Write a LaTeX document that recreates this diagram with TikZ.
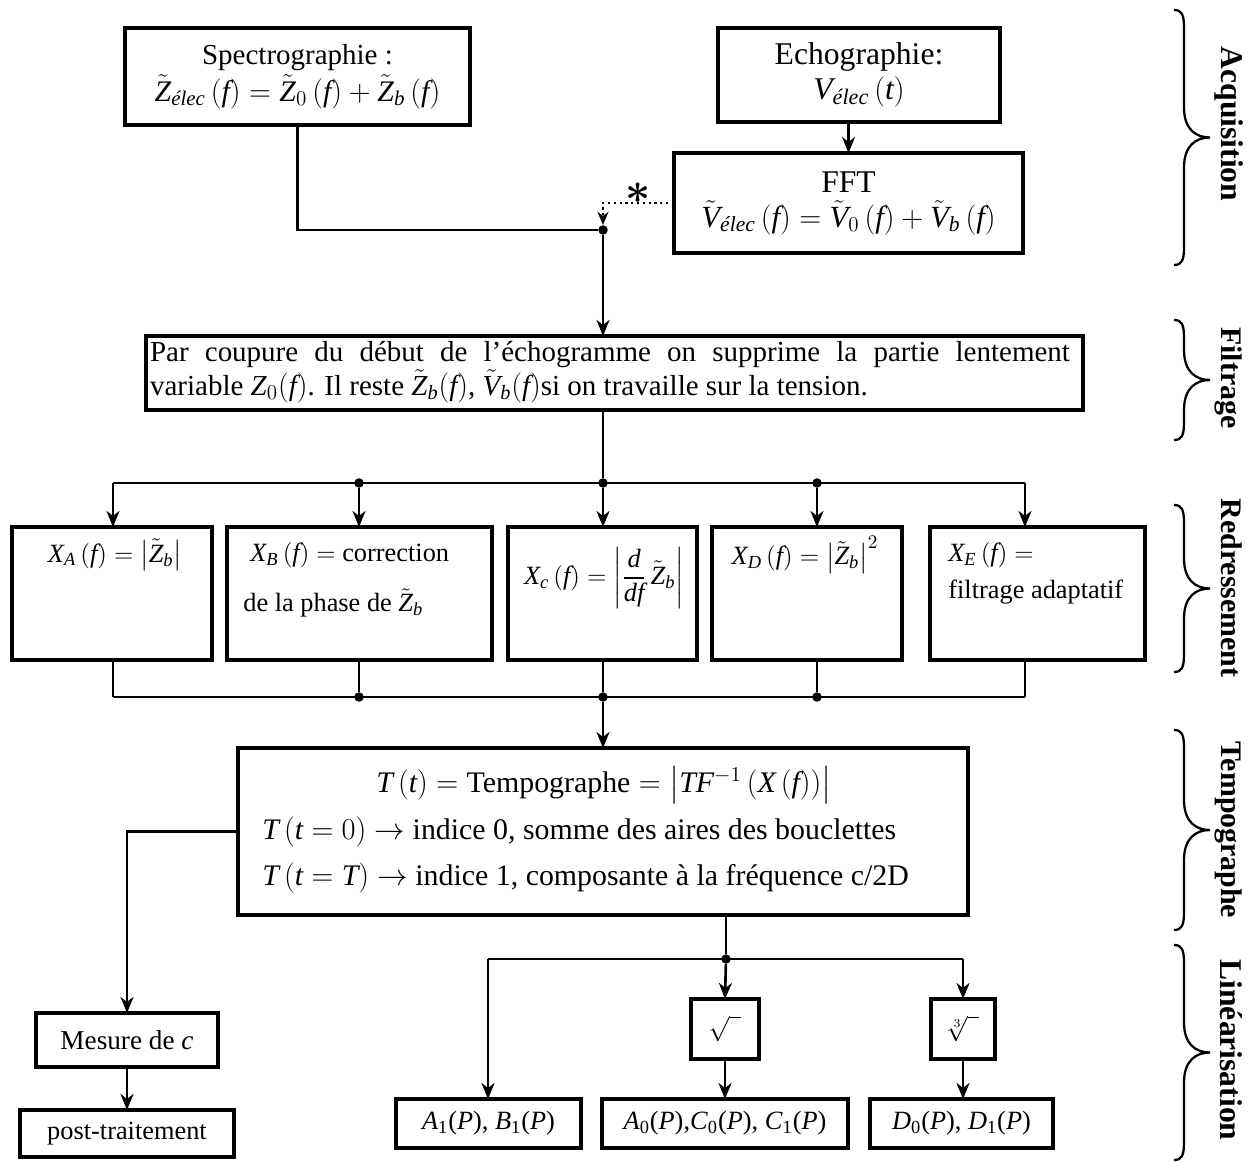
\documentclass[tikz,border=0pt]{standalone}
\usepackage{amsmath}
\usepackage{fontspec}
\setmainfont{Liberation Serif}
% lettres et chiffres des formules dans la police du texte
\DeclareSymbolFont{letters}{TU}{\rmdefault}{m}{it}
\DeclareSymbolFont{droit}{TU}{\rmdefault}{m}{n}
\DeclareMathSymbol{0}{\mathalpha}{droit}{`0}
\DeclareMathSymbol{1}{\mathalpha}{droit}{`1}
\DeclareMathSymbol{2}{\mathalpha}{droit}{`2}
\DeclareMathSymbol{3}{\mathalpha}{droit}{`3}
\DeclareMathSymbol{(}{\mathopen}{droit}{`(}
\DeclareMathSymbol{)}{\mathclose}{droit}{`)}
\DeclareMathSymbol{=}{\mathrel}{droit}{`=}
\DeclareMathSymbol{+}{\mathbin}{droit}{`+}
\usepackage{tikz}
\usetikzlibrary{arrows.meta,positioning}
\newcommand{\Texte}{\fontsize{15}{19}\selectfont}
\newcommand{\Grand}{\fontsize{17}{20}\selectfont}
\newcommand{\Titre}{\fontsize{17}{20}\selectfont\bfseries}
\tikzset{
  bloc/.style={draw=black,line width=2pt,inner sep=0pt,outer sep=0pt,font=\Texte},
  liaison/.style={draw=black,line width=1.5pt},
  fleche/.style={liaison,-{Stealth[length=0.32cm,width=0.26cm,inset=0.1cm]}},
  pointille/.style={draw=black,line width=1.3pt,dotted,-{Stealth[length=0.26cm,width=0.22cm,inset=0.08cm]}},
  noeud/.style={circle,fill=black,inner sep=0pt,minimum size=0.19cm},
  accolade/.style={draw=black,line width=1.3pt},
  etape/.style={font=\Titre,rotate=-90,inner sep=0pt,anchor=base},
  ecrit/.style={font=\Texte,inner sep=0pt}
}
\newcommand{\elec}{\text{\itshape élec}}
\newcommand{\coef}[2]{\textit{#1}\textsubscript{#2}(\textit{P})}

\begin{document}
\begin{tikzpicture}[x=0.02cm,y=-0.02cm]
  % one unit = one pixel of the 1248 x 1162 page
  \path[use as bounding box] (0,0) rectangle (1248,1162);

  \newcommand{\bloc}[6]{%
    \pgfmathsetmacro{\blocl}{(#4-#2)*0.02}%
    \pgfmathsetmacro{\bloch}{(#5-#3)*0.02}%
    \node[bloc,minimum width=\blocl cm,minimum height=\bloch cm,align=center]
      (#1) at ({(#2+#4)/2},{(#3+#5)/2}) {#6};%
  }
  \newcommand{\accolade}[3]{%
    \pgfmathsetmacro{\ym}{(#2+#3)/2}%
    \draw[accolade] (#1,#2) .. controls (#1+8,#2) and (#1+10,#2+5) .. (#1+10,#2+18)
      -- (#1+10,\ym-30) .. controls (#1+10,\ym-8) and (#1+22,\ym) .. (#1+36,\ym)
      .. controls (#1+22,\ym) and (#1+10,\ym+8) .. (#1+10,\ym+30)
      -- (#1+10,#3-18) .. controls (#1+10,#3-5) and (#1+8,#3) .. (#1,#3);%
  }

  % acquisition
  \bloc{spectro}{125}{28}{470}{125}{\fontsize{16.5}{20}\selectfont Spectrographie :\\[2pt]
    \fontsize{17}{20}\selectfont$\tilde{Z}_{\elec}\left(f\right)=\tilde{Z}_0\left(f\right)+\tilde{Z}_b\left(f\right)$}
  \bloc{echo}{718}{28}{1000}{122}{\fontsize{18}{21}\selectfont Echographie:\\[1pt]
    \fontsize{18}{21}\selectfont$V_{\elec}\left(t\right)$}
  \bloc{fft}{674}{153}{1023}{253}{\fontsize{18}{21}\selectfont FFT\\[1pt]
    \fontsize{17.5}{21}\selectfont$\tilde{V}_{\elec}\left(f\right)=\tilde{V}_0\left(f\right)+\tilde{V}_b\left(f\right)$}

  % filtrage
  \bloc{filtre}{146}{336}{1083}{410}{}
  \node[ecrit,text width=18.4cm,align=justify,font=\fontsize{16.5}{19.5}\selectfont]
    (filtre-t) at (610,372) {Par coupure du début de l’échogramme on supprime la partie
    lentement\linebreak variable $Z_0(f)$. Il reste $\tilde{Z}_b(f)$,
    $\tilde{V}_b(f)$si on travaille sur la tension.};

  % redressement
  \bloc{xa}{12}{527}{212}{660}{}
  \bloc{xb}{227}{527}{492}{660}{}
  \bloc{xc}{508}{527}{697}{660}{}
  \bloc{xd}{712}{527}{902}{660}{}
  \bloc{xe}{930}{527}{1145}{660}{}
  \node[ecrit] (xa-t) at (115,555) {$X_A\left(f\right)=\left|\tilde{Z}_b\right|$};
  \node[ecrit,anchor=west] (xb-t1) at (250,555) {$X_B\left(f\right)=$ correction};
  \node[ecrit,anchor=west] (xb-t2) at (243,603) {de la phase de $\tilde{Z}_b$};
  \node[ecrit] (xc-t) at (604,578) {$X_c\left(f\right)=\left|\dfrac{d}{df}\,\tilde{Z}_b\right|$};
  \node[ecrit] (xd-t) at (805,555) {$X_D\left(f\right)=\left|\tilde{Z}_b\right|^2$};
  \node[ecrit,anchor=west] (xe-t1) at (948,555) {$X_E\left(f\right)=$};
  \node[ecrit,anchor=west] (xe-t2) at (948,592) {filtrage adaptatif};

  % tempographe
  \bloc{tempo}{238}{748}{968}{915}{}
  \node[ecrit,font=\Grand] (tempo-t1) at (604,785)
    {$T\left(t\right)=\text{Tempographe}=\left|TF^{-1}\left(X\left(f\right)\right)\right|$};
  \node[ecrit,font=\Grand,anchor=west] (tempo-t2) at (262,832)
    {$T\left(t=0\right)\rightarrow$ indice 0, somme des aires des bouclettes};
  \node[ecrit,font=\Grand,anchor=west] (tempo-t3) at (262,878)
    {$T\left(t=T\right)\rightarrow$ indice 1, composante à la fréquence c/2D};

  % linearisation
  \bloc{mesure}{36}{1013}{218}{1067}{\fontsize{15.5}{19}\selectfont Mesure de \textit{c}}
  \bloc{post}{20}{1110}{234}{1157}{post-traitement}
  \bloc{racine}{691}{999}{759}{1059}{$\sqrt{\phantom{x}}$}
  \bloc{cubique}{931}{999}{995}{1059}{$\sqrt[3]{\phantom{x}}$}
  \bloc{a1}{396}{1099}{581}{1148}{\coef{A}{1}, \coef{B}{1}}
  \bloc{a0}{602}{1099}{848}{1148}{\coef{A}{0},\coef{C}{0}, \coef{C}{1}}
  \bloc{d01}{870}{1099}{1053}{1148}{\coef{D}{0}, \coef{D}{1}}

  % jonctions
  \node[noeud] (j0) at (603,230) {};
  \node[noeud] (j3) at (603,483) {};
  \node[noeud] (gb) at (359,483) {};
  \node[noeud] (gd) at (817,483) {};
  \coordinate (ga) at (113,483);
  \coordinate (ge) at (1025,483);
  \node[noeud] (hb) at (359,697) {};
  \node[noeud] (hc) at (603,697) {};
  \node[noeud] (hd) at (817,697) {};
  \coordinate (ha) at (113,697);
  \coordinate (he) at (1025,697);
  \node[noeud] (k0) at (726,959) {};
  \coordinate (ka) at (488,959);
  \coordinate (kc) at (963,959);

  % liaisons
  \draw[liaison] (spectro.south) |- (j0);
  \draw[fleche] (echo.south -| fft.north) -- (fft.north);
  \draw[pointille] (fft.west) -| (j0);
  \node[inner sep=0pt,font=\fontsize{26}{26}\selectfont] (etoile) at (638,193) {$\boldsymbol{\ast}$};
  \draw[fleche] (j0) -- (j0 |- filtre.north);
  \draw[liaison] (j3 |- filtre.south) -- (j3);
  \draw[liaison] (ga) -- (ge);
  \foreach \j/\b in {ga/xa,gb/xb,j3/xc,gd/xd,ge/xe}
    \draw[fleche] (\j) -- (\j |- \b.north);
  \foreach \j/\b in {ha/xa,hb/xb,hc/xc,hd/xd,he/xe}
    \draw[liaison] (\j |- \b.south) -- (\j);
  \draw[liaison] (ha) -- (he);
  \draw[fleche] (hc) -- (hc |- tempo.north);
  \draw[fleche] (tempo.west) -| (mesure.north);
  \draw[fleche] (mesure.south) -- (post.north);
  \draw[liaison] (k0 |- tempo.south) -- (k0);
  \draw[liaison] (ka) -- (kc);
  \draw[fleche] (ka) -- (ka |- a1.north);
  \draw[fleche] (k0) -- (racine.north);
  \draw[fleche] (kc) -- (cubique.north);
  \draw[fleche] (racine.south) -- (racine.south |- a0.north);
  \draw[fleche] (cubique.south) -- (cubique.south |- d01.north);

  % accolades
  \accolade{1174}{10}{265}
  \node[etape,font=\fontsize{18}{21}\selectfont\bfseries] (acq) at (1221,124) {Acquisition};
  \accolade{1174}{320}{440}
  \node[etape] (fil) at (1221,378) {Filtrage};
  \accolade{1174}{505}{672}
  \node[etape] (red) at (1221,588) {Redressement};
  \accolade{1174}{730}{930}
  \node[etape] (tem) at (1221,830) {Tempographe};
  \accolade{1174}{945}{1160}
  \node[etape,font=\fontsize{18}{21}\selectfont\bfseries] (lin) at (1220,1050) {Linéarisation};
\end{tikzpicture}
\end{document}
